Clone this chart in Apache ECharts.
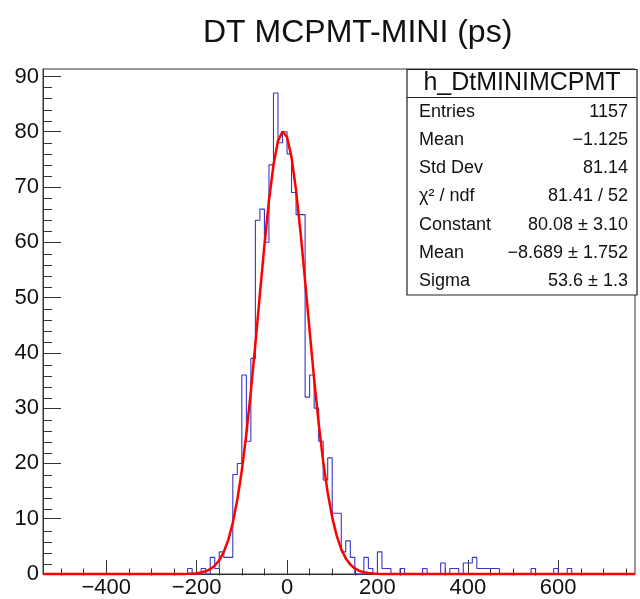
<!DOCTYPE html>
<html><head><meta charset="utf-8">
<script src="https://cdn.jsdelivr.net/npm/echarts@6/dist/echarts.min.js"></script>
<style>html,body{margin:0;padding:0;background:#fff}#c{width:640px;height:599px}</style>
</head><body><div id="c"></div>
<script>
// ---- data ----
const xMin = -540, xMax = 770, binWidth = 10;
const countsStart = -220; // left edge of first bin below
const counts = [
  1, 0, 0, 1, 0, 3, 1, 4, 3, 3,          // -220 .. -130
  18, 20, 36, 24, 39, 64, 66, 60, 74, 87, // -120 .. -30
  78, 80, 76, 69, 65, 65, 32, 36, 30, 24, // -20 .. 70
  17, 21, 11, 11, 4, 6, 3, 0, 0, 3,       // 80 .. 170
  1, 0, 4, 1, 1, 0, 0, 1, 0, 0,           // 180 .. 270
  0, 0, 1, 0, 0, 0, 2, 0, 1, 1,           // 280 .. 370
  0, 2, 2, 3, 1, 1, 1, 1, 1, 0,           // 380 .. 470
  0, 0, 0, 0, 0, 0, 1, 0, 0, 0,           // 480 .. 570
  0, 1, 0, 0, 1                           // 580 .. 620
];
const fitX = [-540, -240, -230, -220, -210, -200, -190, -180, -170, -160, -150, -140, -130, -120, -110, -100,
  -90, -80, -70, -60, -50, -40, -30, -20, -10, 0, 10, 20, 30, 40, 50, 60, 70, 80, 90, 100,
  110, 120, 130, 140, 150, 160, 170, 180, 190, 200, 210, 250, 770];
const fitY = [0, 0.007, 0.016, 0.034, 0.069, 0.137, 0.262, 0.485, 0.865, 1.49, 2.48, 3.98, 6.18, 9.27, 13.42, 18.77,
  25.36, 33.06, 41.63, 50.66, 59.50, 67.52, 73.99, 78.32, 80.06, 79.03, 75.36, 69.40, 61.72, 53.00, 43.97, 35.23, 27.26, 20.37, 14.70, 10.25,
  6.90, 4.49, 2.82, 1.71, 1.00, 0.565, 0.309, 0.163, 0.083, 0.041, 0.02, 0.002, 0];
const yMax = 91.35;
const xMajorTicks = [-400, -200, 0, 200, 400, 600];
const xMinorTicks = [-500, -450, -350, -300, -250, -150, -100, -50, 50, 100, 150, 250, 300, 350, 450, 500, 550, 650, 700, 750];
const yMajorTicks = [0, 10, 20, 30, 40, 50, 60, 70, 80, 90];
const yMinorTicks = [2, 4, 6, 8, 12, 14, 16, 18, 22, 24, 26, 28, 32, 34, 36, 38, 42, 44, 46, 48,
  52, 54, 56, 58, 62, 64, 66, 68, 72, 74, 76, 78, 82, 84, 86, 88];
const titleText = 'DT MCPMT-MINI (ps)';
const statName = 'h_DtMINIMCPMT';
const statLabels = ['Entries', 'Mean', 'Std Dev', 'χ² / ndf', 'Constant', 'Mean', 'Sigma'];
const statValues = ['1157', '\u22121.125', '81.14', '81.41 / 52', '80.08 \u00b1 3.10', '\u22128.689 \u00b1 1.752', '53.6 \u00b1 1.3'];

// ---- build histogram outline ----
const histData = [];
const nBins = Math.round((xMax - xMin) / binWidth);
for (let i = 0; i < nBins; i++) {
  const edge = xMin + i * binWidth;
  const k = Math.round((edge - countsStart) / binWidth);
  const v = (k >= 0 && k < counts.length) ? counts[k] : 0;
  histData.push([edge, v]);
}
histData.push([xMax, 0]);
const fitData = fitX.map((x, i) => [x, fitY[i]]);

const FONT = 'Liberation Sans';
const minusFmt = v => String(v).replace('-', '\u2212');
const G = {left: 43, top: 69, width: 592, height: 506.5};

const statGraphics = [];
const boxL = 407, boxR = 637, boxT = 69.5, boxB = 295, headLine = 97.5;
statGraphics.push({type: 'rect', shape: {x: boxL, y: boxT, width: boxR - boxL, height: boxB - boxT},
  style: {fill: '#fff', stroke: '#222', lineWidth: 1.2}, z: 10});
statGraphics.push({type: 'line', shape: {x1: boxL, y1: headLine, x2: boxR, y2: headLine},
  style: {stroke: '#222', lineWidth: 1.2}, z: 11});
statGraphics.push({type: 'text', x: (boxL + boxR) / 2, y: 83.5, z: 11,
  style: {text: statName, font: '25px "' + FONT + '"', fill: '#111', align: 'center', verticalAlign: 'middle'}});
const rowY0 = 112.3, rowStep = 28.07;
statLabels.forEach((lab, i) => {
  statGraphics.push({type: 'text', x: 419, y: rowY0 + i * rowStep, z: 11,
    style: {text: lab, font: '18px "' + FONT + '"', fill: '#111', align: 'left', verticalAlign: 'middle'}});
  statGraphics.push({type: 'text', x: 628, y: rowY0 + i * rowStep, z: 11,
    style: {text: statValues[i], font: '18px "' + FONT + '"', fill: '#111', align: 'right', verticalAlign: 'middle'}});
});

const chart = echarts.init(document.getElementById('c'), null, {renderer: 'canvas'});
chart.setOption({
  animation: false,
  backgroundColor: '#fff',
  title: {text: titleText, left: 198, top: 12,
    textStyle: {fontFamily: FONT, fontSize: 32, fontWeight: 'normal', color: '#111'}},
  grid: [
    Object.assign({show: true, borderColor: '#333', borderWidth: 1, backgroundColor: 'transparent'}, G),
    Object.assign({show: false}, G)
  ],
  xAxis: [
    {type: 'value', gridIndex: 0, min: xMin, max: xMax,
      axisLine: {show: true, onZero: false, lineStyle: {color: '#333', width: 1}},
      axisTick: {show: true, inside: true, length: 14, customValues: xMajorTicks, lineStyle: {color: '#333', width: 1}},
      axisLabel: {show: true, customValues: xMajorTicks, formatter: minusFmt, margin: 3,
        fontFamily: FONT, fontSize: 22, color: '#111'},
      splitLine: {show: false}},
    {type: 'value', gridIndex: 1, min: xMin, max: xMax,
      axisLine: {show: false, onZero: false},
      axisTick: {show: true, inside: true, length: 7, customValues: xMinorTicks, lineStyle: {color: '#333', width: 1}},
      axisLabel: {show: false}, splitLine: {show: false}}
  ],
  yAxis: [
    {type: 'value', gridIndex: 0, min: 0, max: yMax,
      axisLine: {show: true, onZero: false, lineStyle: {color: '#333', width: 1}},
      axisTick: {show: true, inside: true, length: 18, customValues: yMajorTicks, lineStyle: {color: '#333', width: 1}},
      axisLabel: {show: true, customValues: yMajorTicks, margin: 4, fontFamily: FONT, fontSize: 22, color: '#111'},
      splitLine: {show: false}},
    {type: 'value', gridIndex: 1, min: 0, max: yMax,
      axisLine: {show: false, onZero: false},
      axisTick: {show: true, inside: true, length: 9, customValues: yMinorTicks, lineStyle: {color: '#333', width: 1}},
      axisLabel: {show: false}, splitLine: {show: false}}
  ],
  series: [
    {type: 'line', name: 'hist', xAxisIndex: 0, yAxisIndex: 0, data: histData, step: 'end',
      showSymbol: false, clip: false, lineStyle: {color: '#3838c8', width: 1.1}, z: 3},
    {type: 'line', name: 'fit', xAxisIndex: 0, yAxisIndex: 0, data: fitData,
      showSymbol: false, clip: false, lineStyle: {color: '#ff0000', width: 2.5}, z: 4}
  ],
  graphic: statGraphics
});
</script>
</body></html>
